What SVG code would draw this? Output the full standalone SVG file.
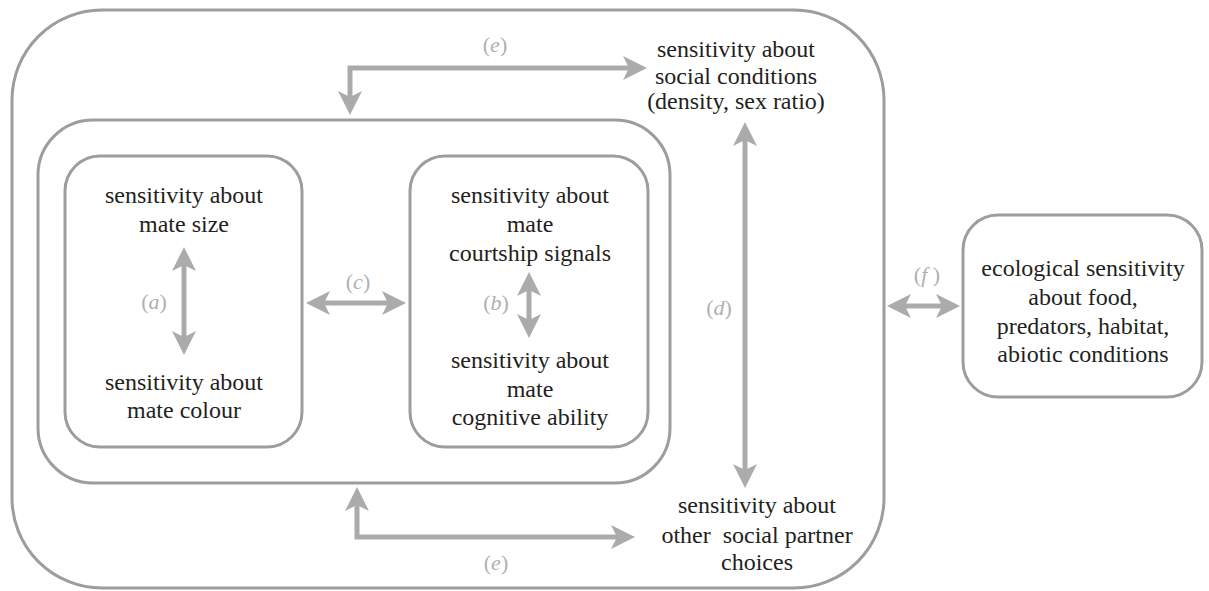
<svg xmlns="http://www.w3.org/2000/svg" width="1209" height="591" viewBox="0 0 1209 591">
<style>
.box{fill:none;stroke:#9d9d9d;stroke-width:3}
.txt{font-family:"Liberation Serif","Times New Roman",serif;font-size:24px;fill:#231f20;text-anchor:middle}
.lbl{font-family:"Liberation Serif","Times New Roman",serif;font-size:22px;fill:#b0b0b0;text-anchor:middle}
.arr{fill:none;stroke:#ababab;stroke-width:5;marker-start:url(#ah);marker-end:url(#ah)}
</style>
<defs>
<marker id="ah" viewBox="0 0 24 24" markerWidth="24" markerHeight="24" refX="8" refY="12" orient="auto-start-reverse" markerUnits="userSpaceOnUse">
<path d="M0,0 L24,12 L0,24 L6,12 Z" fill="#ababab"/>
</marker>
</defs>
<rect width="1209" height="591" fill="#fff"/>
<g id="outer"><rect class="box" x="12" y="10" width="872" height="578" rx="90" ry="90"/></g>
<g id="middle"><rect class="box" x="38" y="120" width="632" height="363" rx="55" ry="55"/></g>
<g id="mate-size-colour">
<rect class="box" x="65" y="156" width="237" height="291" rx="35" ry="35"/>
<text class="txt" x="184" y="203">sensitivity about</text>
<text class="txt" x="184" y="232">mate size</text>
<text class="txt" x="184" y="390">sensitivity about</text>
<text class="txt" x="184" y="418">mate colour</text>
</g>
<g id="mate-courtship-cognitive">
<rect class="box" x="410" y="156" width="238" height="291" rx="35" ry="35"/>
<text class="txt" x="530" y="203">sensitivity about</text>
<text class="txt" x="530" y="232">mate</text>
<text class="txt" x="530" y="261">courtship signals</text>
<text class="txt" x="530" y="368">sensitivity about</text>
<text class="txt" x="530" y="397">mate</text>
<text class="txt" x="530" y="425">cognitive ability</text>
</g>
<g id="social-conditions">
<text class="txt" x="736" y="57">sensitivity about</text>
<text class="txt" x="736" y="84">social conditions</text>
<text class="txt" x="736" y="109">(density, sex ratio)</text>
</g>
<g id="social-partner">
<text class="txt" x="757" y="513">sensitivity about</text>
<text class="txt" x="757" y="543" xml:space="preserve">other  social partner</text>
<text class="txt" x="757" y="570">choices</text>
</g>
<g id="ecological">
<rect class="box" x="963" y="215" width="239" height="182" rx="35" ry="35"/>
<text class="txt" x="1083" y="276">ecological sensitivity</text>
<text class="txt" x="1083" y="305">about food,</text>
<text class="txt" x="1083" y="334">predators, habitat,</text>
<text class="txt" x="1083" y="362">abiotic conditions</text>
</g>
<g id="connectors">
<path class="arr" d="M184,263 L184,339"/>
<path class="arr" d="M529,288 L529,322"/>
<path class="arr" d="M322,303 L390,303"/>
<path class="arr" d="M745,138 L745,472"/>
<path class="arr" d="M903,306 L944,306"/>
<path class="arr" d="M350,99 L350,68 L631,68"/>
<path class="arr" d="M357,503 L357,537 L619,537"/>
<text class="lbl" x="154" y="309">(<tspan font-style="italic">a</tspan>)</text>
<text class="lbl" x="496" y="310">(<tspan font-style="italic">b</tspan>)</text>
<text class="lbl" x="358" y="289">(<tspan font-style="italic">c</tspan>)</text>
<text class="lbl" x="719" y="315">(<tspan font-style="italic">d</tspan>)</text>
<text class="lbl" x="495" y="52">(<tspan font-style="italic">e</tspan>)</text>
<text class="lbl" x="496" y="570">(<tspan font-style="italic">e</tspan>)</text>
<text class="lbl" x="927" y="282">(<tspan font-style="italic">f</tspan> )</text>
</g>
</svg>
